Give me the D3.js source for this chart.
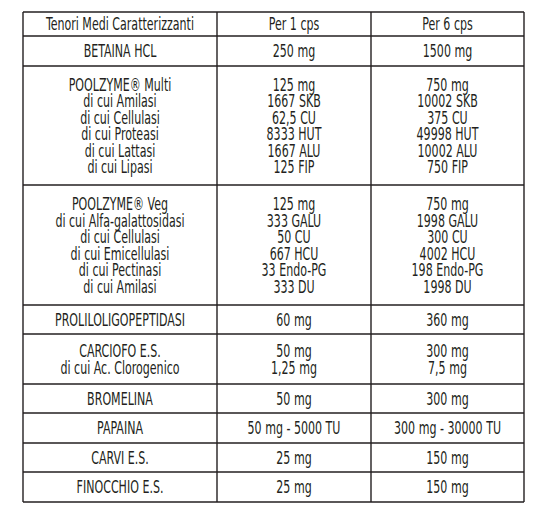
<!DOCTYPE html><html><head><meta charset="utf-8"><script src="https://cdn.jsdelivr.net/npm/d3@7"></script>
<style>body{margin:0;background:#fff}text{font-family:"Liberation Sans Narrow","DejaVu Sans Condensed","Roboto",sans-serif;font-size:15px;fill:#231f20}</style></head><body><svg id="c" width="547" height="514"></svg><script>
const headers=["Tenori Medi Caratterizzanti","Per 1 cps","Per 6 cps"];
const names=[["BETAINA HCL"],["POOLZYME® Multi","di cui Amilasi","di cui Cellulasi","di cui Proteasi","di cui Lattasi","di cui Lipasi"],["POOLZYME® Veg","di cui Alfa-galattosidasi","di cui Cellulasi","di cui Emicellulasi","di cui Pectinasi","di cui Amilasi"],["PROLILOLIGOPEPTIDASI"],["CARCIOFO E.S.","di cui Ac. Clorogenico"],["BROMELINA"],["PAPAINA"],["CARVI E.S."],["FINOCCHIO E.S."]];
const per1=[["250 mg"],["125 mg","1667 SKB","62,5 CU","8333 HUT","1667 ALU","125 FIP"],["125 mg","333 GALU","50 CU","667 HCU","33 Endo-PG","333 DU"],["60 mg"],["50 mg","1,25 mg"],["50 mg"],["50 mg - 5000 TU"],["25 mg"],["25 mg"]];
const per6=[["1500 mg"],["750 mg","10002 SKB","375 CU","49998 HUT","10002 ALU","750 FIP"],["750 mg","1998 GALU","300 CU","4002 HCU","198 Endo-PG","1998 DU"],["360 mg"],["300 mg","7,5 mg"],["300 mg"],["300 mg - 30000 TU"],["150 mg"],["150 mg"]];
const rowEdges=[12,36,66,185,305,334,384,413,443,472,502];
const colEdges=[23,217,371,524];
const svg=d3.select("#c");
const rows=[[[headers[0]],[headers[1]],[headers[2]]]].concat(names.map((n,i)=>[n,per1[i],per6[i]]));
rows.forEach((r,i)=>{
  const y0=rowEdges[i],y1=rowEdges[i+1];
  r.forEach((lines,j)=>{
    const cx=(colEdges[j]+colEdges[j+1])/2, lh=16.5;
    const start=(y0+y1)/2-(lines.length-1)*lh/2;
    svg.selectAll(null).data(lines).enter().append("text")
      .attr("transform",(d,k)=>`translate(${cx},${start+k*lh}) scale(0.82,1.2)`)
      .attr("dy","0.36em").attr("text-anchor","middle").text(d=>d);
  });
});
const g=svg.append("g").attr("stroke","#231f20").attr("stroke-width",1.4);
rowEdges.forEach(v=>g.append("line").attr("x1",colEdges[0]).attr("x2",colEdges[3]).attr("y1",v).attr("y2",v));
colEdges.forEach(v=>g.append("line").attr("x1",v).attr("x2",v).attr("y1",rowEdges[0]).attr("y2",rowEdges[rowEdges.length-1]));
</script></body></html>
